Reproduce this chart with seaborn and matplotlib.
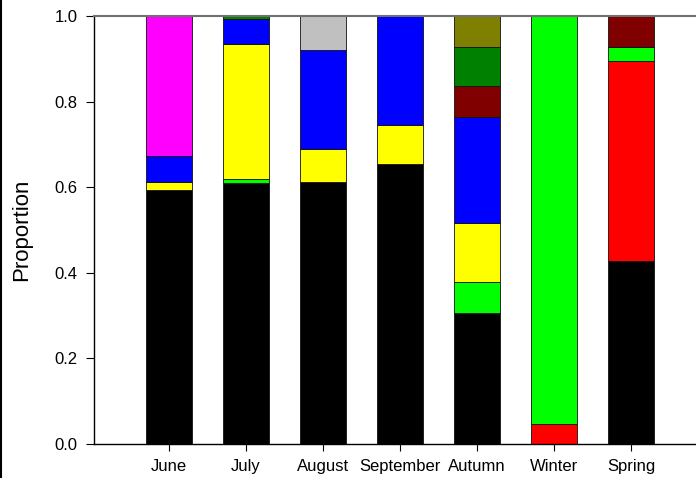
import matplotlib
matplotlib.use("Agg")
import matplotlib.pyplot as plt
import seaborn as sns
import numpy as np
import pandas as pd
from matplotlib.lines import Line2D

periods = ["June", "July", "August", "September", "Autumn", "Winter", "Spring"]

# Proportion of each group per period (stacked bottom to top)
group_a = [0.594, 0.610, 0.613, 0.655, 0.305, 0.000, 0.428]   # black
group_b = [0.000, 0.000, 0.000, 0.000, 0.000, 0.046, 0.466]   # red
group_c = [0.000, 0.008, 0.000, 0.000, 0.073, 0.954, 0.034]   # lime
group_d = [0.019, 0.317, 0.077, 0.090, 0.139, 0.000, 0.000]   # yellow
group_e = [0.061, 0.059, 0.231, 0.255, 0.247, 0.000, 0.000]   # blue
group_f = [0.000, 0.000, 0.000, 0.000, 0.072, 0.000, 0.072]   # maroon
group_g = [0.000, 0.006, 0.000, 0.000, 0.092, 0.000, 0.000]   # green
group_h = [0.000, 0.000, 0.000, 0.000, 0.072, 0.000, 0.000]   # olive
group_i = [0.326, 0.000, 0.000, 0.000, 0.000, 0.000, 0.000]   # magenta
group_j = [0.000, 0.000, 0.079, 0.000, 0.000, 0.000, 0.000]   # silver

groups = {
    "A": (group_a, "#000000"),
    "B": (group_b, "#FF0000"),
    "C": (group_c, "#00FF00"),
    "D": (group_d, "#FFFF00"),
    "E": (group_e, "#0000FF"),
    "F": (group_f, "#800000"),
    "G": (group_g, "#008000"),
    "H": (group_h, "#808000"),
    "I": (group_i, "#FF00FF"),
    "J": (group_j, "#C0C0C0"),
}

sns.set_theme(style="white")
plt.rcParams["font.family"] = ["Liberation Sans", "DejaVu Sans"]
plt.rcParams["text.color"] = "black"
plt.rcParams["axes.labelcolor"] = "black"
plt.rcParams["xtick.color"] = "black"
plt.rcParams["ytick.color"] = "black"

fig = plt.figure(figsize=(6.96, 4.78), dpi=100)
ax = fig.add_axes([94 / 696, 1 - 444 / 478, 1 - 94 / 696 + 0.02, (444 - 16) / 478])

bottom = np.zeros(len(periods))
for name, (vals, color) in groups.items():
    df = pd.DataFrame({"period": periods, "value": vals})
    sns.barplot(data=df, x="period", y="value", order=periods, color=color,
                bottom=bottom, width=0.6, edgecolor="#111111", linewidth=0.6,
                saturation=1, ax=ax, errorbar=None)
    bottom = bottom + np.array(vals)

ax.set_xlim(-0.974, 7.026)
ax.set_ylim(0, 1.0)
ax.set_yticks([0.0, 0.2, 0.4, 0.6, 0.8, 1.0])
ax.set_yticklabels(["0.0", "0.2", "0.4", "0.6", "0.8", "1.0"])
ax.set_xlabel("")
ax.set_ylabel("Proportion", fontsize=16, labelpad=16)
ax.tick_params(axis="both", which="both", direction="out", length=5,
               width=0.8, colors="black", labelsize=12, pad=6,
               left=True, bottom=True)
ax.tick_params(axis="y", length=6, pad=6)

for side in ["left", "bottom"]:
    ax.spines[side].set_color("black")
    ax.spines[side].set_linewidth(1.0)
ax.spines["top"].set_color("#707070")
ax.spines["top"].set_linewidth(1.5)
ax.spines["right"].set_visible(False)

# thin border at the left edge of the figure
fig.add_artist(Line2D([0.001, 0.001], [0, 1], transform=fig.transFigure,
                      color="black", linewidth=1.5))

fig.savefig("out.png", dpi=100)
